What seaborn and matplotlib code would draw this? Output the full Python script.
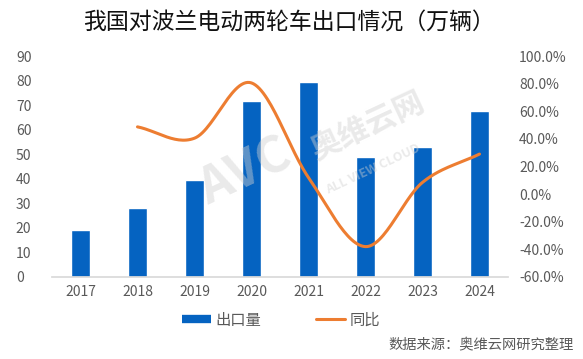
import numpy as np
import pandas as pd
import matplotlib.pyplot as plt
import seaborn as sns
from matplotlib.lines import Line2D

years = ['2017', '2018', '2019', '2020', '2021', '2022', '2023', '2024']
exports = [19, 28.3, 39.7, 71.8, 79.6, 49, 52.8, 67.8]
yoy_years = ['2018', '2019', '2020', '2021', '2022', '2023', '2024']
yoy = [48.7, 40.5, 80.5, 12.0, -38.0, 8.5, 29.0]

sns.set_theme(style='white')
plt.rcParams['font.family'] = ['Noto Sans CJK SC', 'DejaVu Sans']

blue = '#0563C1'
orange = '#ED7D31'
grey = '#595959'

df = pd.DataFrame({'year': years, 'exports': exports})

fig = plt.figure(figsize=(5.83, 3.59), dpi=100)
ax = fig.add_axes([52 / 583, 1 - 277 / 359, 456 / 583, 221 / 359])
sns.barplot(data=df, x='year', y='exports', color=blue, width=0.32,
            saturation=1, ax=ax)
ax.set_ylim(0, 90)
ax.set_yticks(range(0, 91, 10))
ax.set_xlim(-0.5, 7.5)
ax.set_xlabel('')
ax.set_ylabel('')
for s in ['top', 'right', 'left']:
    ax.spines[s].set_visible(False)
ax.spines['bottom'].set_color('#D9D9D9')
ax.tick_params(axis='both', length=0, labelsize=10, colors=grey)
ax.tick_params(axis='x', pad=6)
for t in ax.get_yticklabels():
    t.set_horizontalalignment('left')
ax.yaxis.set_tick_params(pad=26)

# smoothed yoy line (catmull-rom, like Excel's smooth line)
ax2 = ax.twinx()
xp = np.array([years.index(y) for y in yoy_years], dtype=float)
yp = np.array(yoy, dtype=float)
P = np.column_stack([xp, yp])
P = np.vstack([P[0] - (P[1] - P[0]), P, P[-1] + (P[-1] - P[-2])])
curve = []
t = np.linspace(0, 1, 30)
for i in range(1, len(P) - 2):
    p0, p1, p2, p3 = P[i - 1], P[i], P[i + 1], P[i + 2]
    c1 = p1 + (p2 - p0) / 6
    c2 = p2 - (p3 - p1) / 6
    seg = ((1 - t) ** 3)[:, None] * p1 + (3 * (1 - t) ** 2 * t)[:, None] * c1 \
        + (3 * (1 - t) * t ** 2)[:, None] * c2 + (t ** 3)[:, None] * p2
    curve.append(seg)
curve = np.vstack(curve)
ax2.plot(curve[:, 0], curve[:, 1], color=orange, lw=2.2, solid_capstyle='round')
ax2.set_ylim(-60, 100)
ax2.set_yticks(range(-60, 101, 20))
ax2.set_yticklabels([f'{v:.1f}%' for v in range(-60, 101, 20)])
for s in ['top', 'right', 'left', 'bottom']:
    ax2.spines[s].set_visible(False)
ax2.tick_params(axis='y', length=0, labelsize=10, colors=grey, pad=8)
ax2.set_xlim(-0.5, 7.5)

# watermark
wm = dict(fontweight='bold', color='#D0D0D0', alpha=0.45, rotation=25,
          ha='center', va='center')
fig.text(0.42, 0.52, 'AVC', fontsize=36, **wm)
fig.text(0.63, 0.65, '奥维云网', fontsize=22, **wm)
fig.text(0.64, 0.53, 'ALL VIEW CLOUD', fontsize=9, **wm)

fig.text(0.495, 1 - 22 / 359, '我国对波兰电动两轮车出口情况（万辆）', fontsize=16.5,
         color='#111111', ha='center', va='center')

handles = [Line2D([], [], color=blue, lw=6, solid_capstyle='butt'),
           Line2D([], [], color=orange, lw=2.2)]
fig.legend(handles, ['出口量', '同比'], loc='center', bbox_to_anchor=(0.482, 1 - 320 / 359),
           ncol=2, frameon=False, fontsize=11, labelcolor=grey, handlelength=1.9,
           columnspacing=3.6, handletextpad=0.3)
fig.text(1 - 9 / 583, 1 - 344 / 359, '数据来源：奥维云网研究整理', fontsize=10.3,
         color=grey, ha='right', va='center')

fig.savefig('out.png', dpi=100)
